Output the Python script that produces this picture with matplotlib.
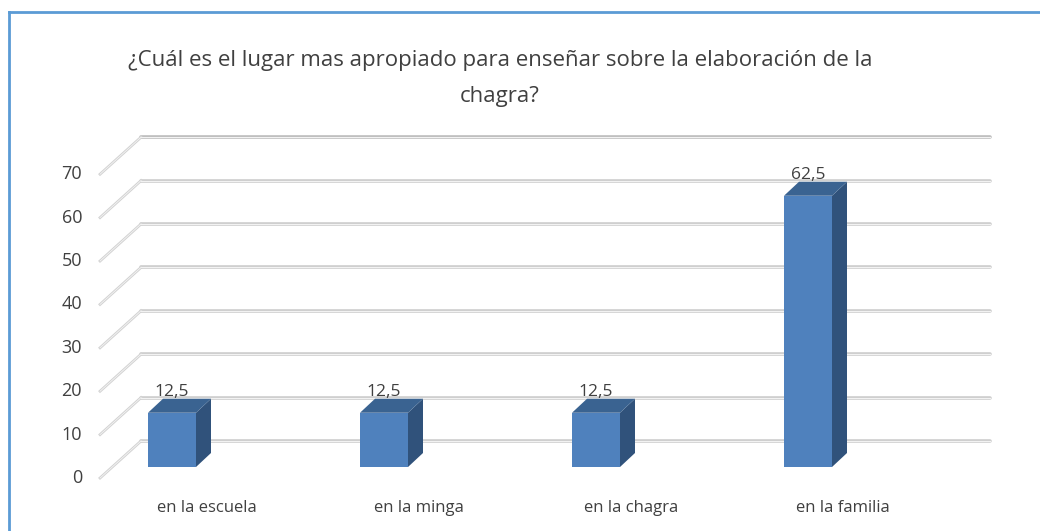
import matplotlib
matplotlib.use("Agg")
import matplotlib.pyplot as plt
from matplotlib.patches import Polygon
from matplotlib.lines import Line2D

# ---- data ----
categories = ["en la escuela", "en la minga", "en la chagra", "en la familia"]
values = [12.5, 12.5, 12.5, 62.5]
value_labels = ["12,5", "12,5", "12,5", "62,5"]
yticks = [0, 10, 20, 30, 40, 50, 60, 70]
title = "¿Cuál es el lugar mas apropiado para enseñar sobre la elaboración de la\nchagra?"

# ---- style / layout ----
W, H = 1040, 531
PX_X = 212.0          # pixels per category step
PX_Y = 4.34           # pixels per value unit
X0_PX, Y0_PX = 172.0, 467.0   # pixel position of first bar front centre / base

front_c = "#4F81BD"
side_c = "#30527B"
top_c = "#3A6391"
grid_c = "#cdcdcd"
text_c = "#404040"
font = "Open Sans"

bar_w = 48 / PX_X
bdx, bdy = 15 / PX_X, 14 / PX_Y          # bar depth
wdx, wdy = 29 / PX_X, 26 / PX_Y          # back wall offset
fdx, fdy = -12 / PX_X, -11 / PX_Y        # front floor offset
wall_right = (990 - X0_PX) / PX_X

fig = plt.figure(figsize=(W / 100, H / 100), dpi=100)
ax = fig.add_axes([0, 0, 1, 1])
ax.set_xlim((0 - X0_PX) / PX_X, (W - X0_PX) / PX_X)
ax.set_ylim((Y0_PX - H) / PX_Y, Y0_PX / PX_Y)
ax.axis("off")

wall_left = -0.5 + 0.354
front_left = wall_left - (wdx - fdx)

for v in yticks:
    col = "#bdbdbd" if v == yticks[-1] else grid_c
    ax.plot([wall_left, wall_right], [v + wdy, v + wdy], color=col, lw=2.6,
            solid_capstyle="round", zorder=1)
    ax.plot([wall_left, wall_right], [v + wdy, v + wdy], color="#f2f2f2", lw=0.8,
            zorder=1.1)
    ax.plot([front_left, wall_left], [v + fdy, v + wdy], color="#d2d2d2", lw=2.0,
            zorder=1)
    ax.plot([front_left, wall_left], [v + fdy, v + wdy], color="#f4f4f4", lw=0.6,
            zorder=1.1)
    ax.text(front_left - 0.085, v + fdy, str(v), ha="right", va="center",
            fontsize=13, color=text_c, family=font)

xs = list(range(len(values)))
ax.bar(xs, values, width=bar_w, color=front_c, zorder=3)
for x, v, lab in zip(xs, values, value_labels):
    r, l = x + bar_w / 2, x - bar_w / 2
    ax.add_patch(Polygon([(r, 0), (r + bdx, bdy), (r + bdx, v + bdy), (r, v)],
                         closed=True, facecolor=side_c, edgecolor="none", zorder=3))
    ax.add_patch(Polygon([(l, v), (r, v), (r + bdx, v + bdy), (l + bdx, v + bdy)],
                         closed=True, facecolor=top_c, edgecolor="none", zorder=3))
    ax.text(x, v + bdy + 1.5, lab, ha="center", va="center", fontsize=12.5,
            color=text_c, family=font, zorder=4)

for x, c in zip(xs, categories):
    ax.text(x + 35 / PX_X, (Y0_PX - 508) / PX_Y, c, ha="center", va="center",
            fontsize=12, color=text_c, family=font)

fig.text(500 / W, 1 - 78.5 / H, title, ha="center", va="center", fontsize=16,
         color=text_c, family=font, linespacing=1.95)

# outer blue frame (top and left)
fig.add_artist(Line2D([9 / W, 9 / W], [0, 1 - 12 / H], transform=fig.transFigure,
                      color="#5B9BD5", lw=2))
fig.add_artist(Line2D([9 / W, 1], [1 - 12 / H, 1 - 12 / H], transform=fig.transFigure,
                      color="#5B9BD5", lw=2))

fig.savefig("out.png", dpi=100)
